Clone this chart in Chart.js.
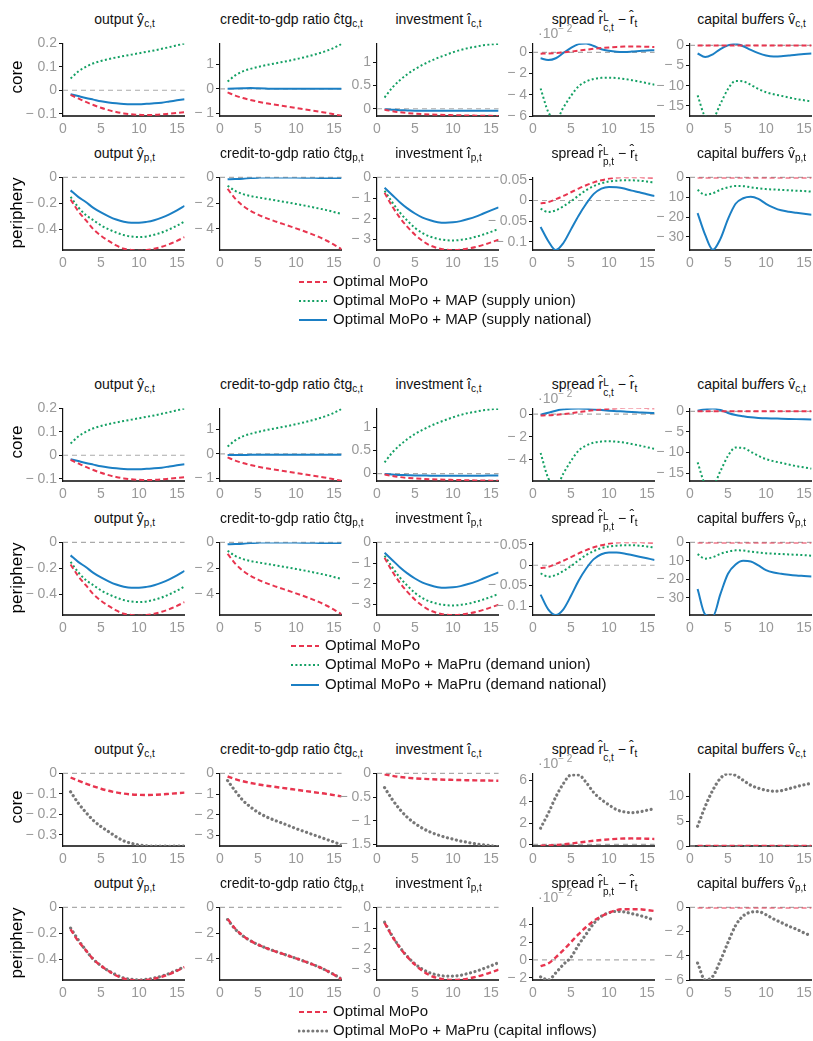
<!DOCTYPE html>
<html>
<head>
<meta charset="utf-8">
<script src="https://cdn.jsdelivr.net/npm/chart.js@4.4.0/dist/chart.umd.min.js"></script>
<style>
body{margin:0;width:813px;height:1041px;overflow:hidden;background:#fff;font-family:"Liberation Sans",Arial,sans-serif;position:relative}
.ttl{position:absolute;text-align:center;font-size:14px;line-height:20px;color:#111;white-space:nowrap}
.ttl sub{font-size:10px;vertical-align:-3px;line-height:0}
.ss{display:inline-block;vertical-align:-7px;font-size:10px;line-height:10px;text-align:left}
.row{position:absolute;font-size:17px;color:#000;transform:translate(-50%,-50%) rotate(-90deg);white-space:nowrap}
.exp{position:absolute;font-size:14px;color:#999;white-space:nowrap}
.exp sup{font-size:10px}
.leg{position:absolute;font-size:15px;color:#111;white-space:nowrap;line-height:18px}
.leg svg{vertical-align:middle;margin-right:5px}
</style>
</head>
<body>
<script>
// horizon (quarters)
const steps = [1,2,3,4,5,6,7,8,9,10,11,12,13,14,15,16];
const xTicks = [0,5,10,15];

// ---- Optimal MoPo (red, same in every block)
const outC_mopo = [-0.02,-0.035,-0.05,-0.063,-0.075,-0.085,-0.093,-0.099,-0.103,-0.105,-0.106,-0.105,-0.103,-0.1,-0.097,-0.094];
const ctgC_mopo = [-0.15,-0.28,-0.38,-0.46,-0.53,-0.59,-0.64,-0.69,-0.74,-0.79,-0.84,-0.89,-0.94,-0.99,-1.05,-1.11];
const invC_mopo = [-0.02,-0.05,-0.075,-0.092,-0.105,-0.115,-0.122,-0.128,-0.133,-0.137,-0.141,-0.144,-0.147,-0.15,-0.152,-0.155];
const sprC_mopo = [-0.12,-0.1,-0.06,0.0,0.08,0.17,0.26,0.34,0.41,0.47,0.52,0.55,0.56,0.55,0.53,0.51]; // x10^-2
const cbC_mopo  = [0,0,0,0,0,0,0,0,0,0,0,0,0,0,0,0];
const outP_mopo = [-0.17,-0.26,-0.33,-0.4,-0.45,-0.49,-0.525,-0.55,-0.56,-0.565,-0.56,-0.55,-0.535,-0.515,-0.49,-0.46];
const ctgP_mopo = [-0.9,-1.65,-2.2,-2.6,-2.9,-3.15,-3.37,-3.57,-3.77,-3.97,-4.18,-4.4,-4.64,-4.92,-5.24,-5.6];
const invP_mopo = [-0.75,-1.4,-1.95,-2.4,-2.78,-3.08,-3.3,-3.43,-3.5,-3.52,-3.5,-3.45,-3.37,-3.27,-3.15,-3.02];
const sprP_mopo = [-0.007,-0.004,0.003,0.011,0.02,0.029,0.037,0.044,0.049,0.053,0.056,0.057,0.057,0.057,0.056,0.055];
const cbP_mopo  = [0,0,0,0,0,0,0,0,0,0,0,0,0,0,0,0];

// ---- MoPo + macroprudential, union-wide (green)
const outC_union = [0.05,0.08,0.10,0.115,0.125,0.133,0.14,0.146,0.152,0.158,0.164,0.17,0.177,0.184,0.192,0.2];
const ctgC_union = [0.3,0.55,0.72,0.82,0.9,0.97,1.03,1.09,1.15,1.22,1.29,1.37,1.46,1.56,1.69,1.85];
const invC_union = [0.24,0.45,0.61,0.74,0.85,0.94,1.02,1.09,1.15,1.21,1.26,1.3,1.33,1.36,1.38,1.39];
const sprC_union = [-3.4,-5.6,-6.4,-5.2,-4.1,-3.2,-2.75,-2.5,-2.4,-2.38,-2.42,-2.5,-2.62,-2.75,-2.9,-3.05];
const cbC_union  = [-12.4,-17.5,-18,-14.5,-10.8,-8.8,-8.9,-9.8,-10.8,-11.6,-12.1,-12.5,-12.9,-13.3,-13.6,-13.9];
const outP_union = [-0.15,-0.23,-0.29,-0.33,-0.37,-0.4,-0.425,-0.445,-0.456,-0.46,-0.455,-0.443,-0.425,-0.4,-0.372,-0.34];
const ctgP_union = [-0.65,-1.05,-1.3,-1.45,-1.56,-1.66,-1.76,-1.86,-1.96,-2.07,-2.18,-2.3,-2.42,-2.55,-2.7,-2.85];
const invP_union = [-0.65,-1.2,-1.7,-2.1,-2.45,-2.7,-2.87,-2.98,-3.04,-3.06,-3.03,-2.97,-2.88,-2.77,-2.64,-2.5];
const sprP_union = [-0.02,-0.028,-0.024,-0.014,-0.002,0.012,0.025,0.035,0.042,0.046,0.048,0.049,0.049,0.048,0.046,0.043];
const cbP_union  = [-6.3,-8.8,-8,-6.2,-5,-4.3,-4.4,-5,-5.5,-5.9,-6.1,-6.3,-6.5,-6.7,-6.9,-7.2];

// ---- MoPo + MAP, supply national (blue, block 1)
const outC_supN = [-0.017,-0.025,-0.033,-0.04,-0.047,-0.052,-0.056,-0.059,-0.06,-0.06,-0.058,-0.056,-0.053,-0.048,-0.043,-0.038];
const ctgC_supN = [0,0.01,0.02,0.03,0.02,0.01,0,0,0,0,0,0,0,0,0,0];
const invC_supN = [-0.01,-0.02,-0.03,-0.035,-0.04,-0.04,-0.045,-0.045,-0.045,-0.045,-0.045,-0.045,-0.045,-0.045,-0.04,-0.04];
const sprC_supN = [-0.56,-0.72,-0.55,-0.05,0.43,0.78,0.85,0.6,0.3,0.15,0.07,0.05,0.08,0.13,0.18,0.21];
const cbC_supN  = [-2,-2.9,-2.2,-0.9,0,0.4,-0.2,-1.1,-1.9,-2.5,-2.75,-2.7,-2.5,-2.3,-2.15,-2.0];
const outP_supN = [-0.1,-0.15,-0.19,-0.235,-0.27,-0.3,-0.325,-0.342,-0.35,-0.35,-0.343,-0.33,-0.31,-0.285,-0.255,-0.22];
const ctgP_supN = [-0.15,-0.13,-0.1,-0.05,-0.02,0,0,0,0,-0.01,-0.02,-0.03,-0.04,-0.05,-0.05,-0.05];
const invP_supN = [-0.5,-0.85,-1.2,-1.5,-1.75,-1.95,-2.08,-2.17,-2.2,-2.18,-2.12,-2.02,-1.9,-1.75,-1.6,-1.45];
const sprP_supN = [-0.064,-0.098,-0.12,-0.103,-0.07,-0.037,-0.008,0.016,0.029,0.033,0.032,0.029,0.024,0.02,0.015,0.011];
const cbP_supN  = [-18,-29,-36.5,-31,-21,-13.3,-10.5,-9.7,-10.8,-13.3,-15.2,-16.6,-17.3,-17.8,-18.3,-18.8];

// ---- MoPo + MaPru, demand national (blue, block 2)
const ctgC_demN = [-0.05,-0.05,-0.05,-0.04,-0.04,-0.04,-0.04,-0.04,-0.04,-0.04,-0.04,-0.04,-0.04,-0.04,-0.04,-0.04];
const sprC_demN = [-0.05,0.12,0.3,0.42,0.48,0.49,0.46,0.41,0.35,0.3,0.26,0.22,0.18,0.15,0.12,0.1];
const cbC_demN  = [0.15,0.5,0.65,0.3,-0.4,-0.9,-1.2,-1.45,-1.6,-1.7,-1.75,-1.8,-1.85,-1.9,-1.95,-2.0];
const sprP_demN = [-0.072,-0.108,-0.122,-0.108,-0.075,-0.038,-0.008,0.015,0.027,0.031,0.031,0.029,0.025,0.021,0.017,0.013];
const cbP_demN  = [-25.2,-39,-40,-28,-17,-12,-10,-10.3,-12.5,-15,-16.3,-17,-17.5,-17.9,-18.2,-18.5];

// ---- MoPo + MaPru, capital inflows (grey, block 3)
const outC_infl = [-0.09,-0.145,-0.19,-0.23,-0.26,-0.285,-0.31,-0.33,-0.342,-0.35,-0.354,-0.356,-0.357,-0.357,-0.357,-0.356];
const ctgC_infl = [-0.35,-0.85,-1.3,-1.62,-1.88,-2.08,-2.24,-2.38,-2.52,-2.67,-2.8,-2.93,-3.06,-3.19,-3.32,-3.46];
const invC_infl = [-0.3,-0.55,-0.76,-0.93,-1.06,-1.16,-1.24,-1.3,-1.35,-1.39,-1.43,-1.46,-1.49,-1.51,-1.53,-1.55];
const sprC_infl = [1.52,2.9,4.45,5.7,6.5,6.5,5.8,4.85,4.2,3.7,3.25,3.05,2.97,3.05,3.2,3.35]; // x10^-2
const cbC_infl  = [4,8,11.3,13.7,14.6,14.3,13.3,12.3,11.7,11.3,11.1,11.2,11.6,12,12.4,12.7];
const outP_infl = [-0.16,-0.25,-0.33,-0.4,-0.45,-0.49,-0.52,-0.545,-0.555,-0.56,-0.555,-0.545,-0.53,-0.51,-0.485,-0.455];
const ctgP_infl = [-0.95,-1.7,-2.22,-2.6,-2.9,-3.15,-3.37,-3.57,-3.77,-3.97,-4.18,-4.4,-4.64,-4.92,-5.23,-5.58];
const invP_infl = [-0.72,-1.38,-1.93,-2.38,-2.74,-3.0,-3.18,-3.28,-3.33,-3.33,-3.29,-3.2,-3.1,-2.97,-2.83,-2.68];
const sprP_infl = [-1.9,-2.25,-1.45,-0.5,0.3,1.7,2.9,4.1,4.9,5.3,5.45,5.4,5.2,5.0,4.75,4.45]; // x10^-2
const cbP_infl  = [-4.6,-6,-5.7,-4.4,-2.9,-1.5,-0.7,-0.4,-0.35,-0.6,-0.95,-1.25,-1.55,-1.8,-2.1,-2.36];

// y tick lists
const t_out1 = [-0.1,0,0.1,0.2], t_ctg1 = [-1,0,1], t_inv1 = [0,0.5,1];
const t_spr1 = [-6,-4,-2,0], t_spr3 = [-4,-2,0], t_cb1 = [-15,-10,-5,0];
const t_outP = [-0.4,-0.2,0], t_ctgP = [-4,-2,0], t_invP = [-3,-2,-1,0];
const t_sprP = [-0.1,-0.05,0,0.05], t_cbP = [-30,-20,-10,0];
const cbP_labels = ['\u2212 30','\u2212 20','10','0'];
const t_out5 = [-0.3,-0.2,-0.1,0], t_ctg5 = [-3,-2,-1,0], t_inv5 = [-1.5,-1,-0.5,0];
const t_spr5 = [0,2,4,6], t_cb5 = [0,5,10], t_spr6 = [-2,0,2,4], t_cb6 = [-6,-4,-2,0];

const legA = ['Optimal MoPo','Optimal MoPo + MAP (supply union)','Optimal MoPo + MAP (supply national)'];
const legB = ['Optimal MoPo','Optimal MoPo + MaPru (demand union)','Optimal MoPo + MaPru (demand national)'];
const legC = ['Optimal MoPo','Optimal MoPo + MaPru (capital inflows)'];

// layout
const cols = [63, 220, 377, 533, 690];
const rowTops = [43, 177, 408, 542, 773, 907];
const plotW = 123, plotH = 73;

const RED = '#e8354f', GREEN = '#14a064', BLUE = '#1b7fc4', GREY = '#777';
const styles = {
  mopo:  {borderColor: RED, borderWidth: 2, borderDash: [5,3]},
  mopo3: {borderColor: RED, borderWidth: 2.4, borderDash: [5,3]},
  union: {borderColor: GREEN, borderWidth: 2, borderDash: [2,2.4]},
  nat:   {borderColor: BLUE, borderWidth: 2},
  infl:  {borderColor: GREY, borderWidth: 3.2, borderDash: [0.01,4.6], borderCapStyle: 'round'}
};

const titles = {
  out: s => 'output y\u0302<sub>' + s + ',t</sub>',
  ctg: s => 'credit-to-gdp ratio c\u0302tg<sub>' + s + ',t</sub>',
  inv: s => 'investment \u00ee<sub>' + s + ',t</sub>',
  spr: s => 'spread r\u0302<span class="ss">L<br>' + s + ',t</span> \u2212 r\u0302<sub>t</sub>',
  cb:  s => 'capital bu<i>ff</i>ers v\u0302<sub>' + s + ',t</sub>'
};

function three(a, b, c) { return [[a,'mopo'],[b,'union'],[c,'nat']]; }

const panels = [
  // block 1: supply
  {r:0,c:0,k:'out',y:[-0.11,0.2],t:t_out1,s:three(outC_mopo,outC_union,outC_supN)},
  {r:0,c:1,k:'ctg',y:[-1.12,1.87],t:t_ctg1,s:three(ctgC_mopo,ctgC_union,ctgC_supN)},
  {r:0,c:2,k:'inv',y:[-0.155,1.4],t:t_inv1,s:three(invC_mopo,invC_union,invC_supN)},
  {r:0,c:3,k:'spr',y:[-6,0.85],t:t_spr1,exp:true,s:three(sprC_mopo,sprC_union,sprC_supN)},
  {r:0,c:4,k:'cb',y:[-17.5,0.5],t:t_cb1,s:three(cbC_mopo,cbC_union,cbC_supN)},
  {r:1,c:0,k:'out',y:[-0.56,0],t:t_outP,s:three(outP_mopo,outP_union,outP_supN)},
  {r:1,c:1,k:'ctg',y:[-5.66,0],t:t_ctgP,s:three(ctgP_mopo,ctgP_union,ctgP_supN)},
  {r:1,c:2,k:'inv',y:[-3.52,0],t:t_invP,s:three(invP_mopo,invP_union,invP_supN)},
  {r:1,c:3,k:'spr',y:[-0.12,0.056],t:t_sprP,s:three(sprP_mopo,sprP_union,sprP_supN)},
  {r:1,c:4,k:'cb',y:[-36.6,0],t:t_cbP,lab:cbP_labels,s:three(cbP_mopo,cbP_union,cbP_supN)},
  // block 2: demand
  {r:2,c:0,k:'out',y:[-0.11,0.2],t:t_out1,s:three(outC_mopo,outC_union,outC_supN)},
  {r:2,c:1,k:'ctg',y:[-1.12,1.87],t:t_ctg1,s:three(ctgC_mopo,ctgC_union,ctgC_demN)},
  {r:2,c:2,k:'inv',y:[-0.16,1.4],t:t_inv1,s:three(invC_mopo,invC_union,invC_supN)},
  {r:2,c:3,k:'spr',y:[-5.86,0.5],t:t_spr3,exp:true,s:three(sprC_mopo,sprC_union,sprC_demN)},
  {r:2,c:4,k:'cb',y:[-16.9,0.7],t:t_cb1,s:three(cbC_mopo,cbC_union,cbC_demN)},
  {r:3,c:0,k:'out',y:[-0.56,0],t:t_outP,s:three(outP_mopo,outP_union,outP_supN)},
  {r:3,c:1,k:'ctg',y:[-5.66,0],t:t_ctgP,s:three(ctgP_mopo,ctgP_union,ctgP_supN)},
  {r:3,c:2,k:'inv',y:[-3.52,0],t:t_invP,s:three(invP_mopo,invP_union,invP_supN)},
  {r:3,c:3,k:'spr',y:[-0.122,0.056],t:t_sprP,s:three(sprP_mopo,sprP_union,sprP_demN)},
  {r:3,c:4,k:'cb',y:[-39.3,0],t:t_cbP,lab:cbP_labels,s:three(cbP_mopo,cbP_union,cbP_demN)},
  // block 3: capital inflows
  {r:4,c:0,k:'out',y:[-0.355,0],t:t_out5,s:[[outC_mopo,'mopo3'],[outC_infl,'infl']]},
  {r:4,c:1,k:'ctg',y:[-3.51,0],t:t_ctg5,s:[[ctgC_mopo,'mopo3'],[ctgC_infl,'infl']]},
  {r:4,c:2,k:'inv',y:[-1.535,0],t:t_inv5,s:[[invC_mopo,'mopo3'],[invC_infl,'infl']]},
  {r:4,c:3,k:'spr',y:[-0.15,6.65],t:t_spr5,exp:true,s:[[sprC_mopo,'mopo3'],[sprC_infl,'infl']]},
  {r:4,c:4,k:'cb',y:[0,14.7],t:t_cb5,s:[[cbC_mopo,'mopo3'],[cbC_infl,'infl']]},
  {r:5,c:0,k:'out',y:[-0.56,0],t:t_outP,s:[[outP_mopo,'mopo3'],[outP_infl,'infl']]},
  {r:5,c:1,k:'ctg',y:[-5.66,0],t:t_ctgP,s:[[ctgP_mopo,'mopo3'],[ctgP_infl,'infl']]},
  {r:5,c:2,k:'inv',y:[-3.52,0],t:t_invP,s:[[invP_mopo,'mopo3'],[invP_infl,'infl']]},
  {r:5,c:3,k:'spr',y:[-2.25,5.9],t:t_spr6,exp:true,s:[[sprP_mopo,'mopo3',100],[sprP_infl,'infl']]},
  {r:5,c:4,k:'cb',y:[-6,0],t:t_cb6,s:[[cbP_mopo,'mopo3'],[cbP_infl,'infl']]}
];

function fmt(v) {
  const a = +Math.abs(v).toFixed(4);
  return v < 0 ? '\u2212 ' + a : String(a);
}

// grey dashed line at zero
const zeroLine = {
  id: 'zeroLine',
  beforeDatasetsDraw(chart) {
    const y = chart.scales.y, a = chart.chartArea;
    if (y.min > 0 || y.max < 0) return;
    const py = y.getPixelForValue(0), ctx = chart.ctx;
    ctx.save();
    ctx.strokeStyle = '#aaa';
    ctx.lineWidth = 1.2;
    ctx.setLineDash([5,4]);
    ctx.beginPath();
    ctx.moveTo(a.left, py);
    ctx.lineTo(a.right, py);
    ctx.stroke();
    ctx.restore();
  }
};

function addDiv(cls, html, css) {
  const d = document.createElement('div');
  d.className = cls;
  d.innerHTML = html;
  d.style.cssText = css;
  document.body.appendChild(d);
  return d;
}

panels.forEach(p => {
  const x0 = cols[p.c], top = rowTops[p.r];
  const side = (p.r % 2 === 0) ? 'c' : 'p';
  addDiv('ttl', titles[p.k](side), `left:${x0}px;width:${plotW}px;top:${top-34}px`);
  if (p.exp) addDiv('exp', '\u00b710<sup>\u2212 2</sup>', `left:${x0+5}px;top:${top-20}px`);

  const cv = document.createElement('canvas');
  cv.width = 60 + plotW + 4;
  cv.height = 10 + plotH + 26;
  cv.style.cssText = `position:absolute;left:${x0-60}px;top:${top-10}px`;
  document.body.appendChild(cv);

  const datasets = p.s.map(([vals, st, mult]) => Object.assign({
    data: steps.map((s, i) => ({x: s, y: vals[i] * (mult || 1)})),
    pointRadius: 0,
    fill: false,
    cubicInterpolationMode: 'monotone'
  }, styles[st]));

  new Chart(cv, {
    type: 'line',
    data: {datasets},
    options: {
      responsive: false,
      animation: false,
      devicePixelRatio: 1,
      layout: {padding: {left: 0, top: 10, right: 4, bottom: 0}},
      plugins: {legend: {display: false}, tooltip: {enabled: false}},
      scales: {
        x: {
          type: 'linear', min: 0, max: 16,
          afterBuildTicks: s => { s.ticks = xTicks.map(v => ({value: v})); },
          afterFit: s => { s.height = 26; },
          grid: {display: false, drawTicks: false},
          border: {display: true, color: '#444', width: 2},
          ticks: {autoSkip: false, maxRotation: 0, padding: 5, color: '#999',
                  font: {family: 'Liberation Sans', size: 14}, callback: v => fmt(v)}
        },
        y: {
          min: p.y[0], max: p.y[1],
          afterBuildTicks: s => { s.ticks = p.t.map(v => ({value: v})); },
          afterFit: s => { s.width = 60; },
          grid: {display: true, drawOnChartArea: false, drawTicks: true, tickLength: 4, color: '#111'},
          border: {display: true, color: '#111', width: 1.2},
          ticks: {autoSkip: false, padding: 2, color: '#999',
                  font: {family: 'Liberation Sans', size: 14},
                  callback: (v, i) => p.lab ? p.lab[i] : fmt(v)}
        }
      }
    },
    plugins: [zeroLine]
  });
});

// row labels
rowTops.forEach((top, r) => {
  addDiv('row', r % 2 === 0 ? 'core' : 'periphery', `left:17px;top:${top + (r % 2 === 0 ? 34 : 36)}px`);
});

// legends
const legStyle = {
  mopo: `stroke="${RED}" stroke-width="2" stroke-dasharray="5 3"`,
  union: `stroke="${GREEN}" stroke-width="2" stroke-dasharray="2 2.4"`,
  nat: `stroke="${BLUE}" stroke-width="2"`,
  infl: `stroke="${GREY}" stroke-width="3.2" stroke-dasharray="0.01 4.6" stroke-linecap="round"`
};
function legend(labels, keys, x, ys) {
  labels.forEach((lab, i) => {
    const svg = `<svg width="30" height="8"><line x1="1" y1="4" x2="29" y2="4" ${legStyle[keys[i]]}/></svg>`;
    addDiv('leg', svg + lab, `left:${x}px;top:${ys[i] - 9}px`);
  });
}
legend(legA, ['mopo','union','nat'], 298, [281, 300, 319]);
legend(legB, ['mopo','union','nat'], 290, [645, 664, 684]);
legend(legC, ['mopo','infl'], 298, [1011, 1030]);
</script>
</body>
</html>
